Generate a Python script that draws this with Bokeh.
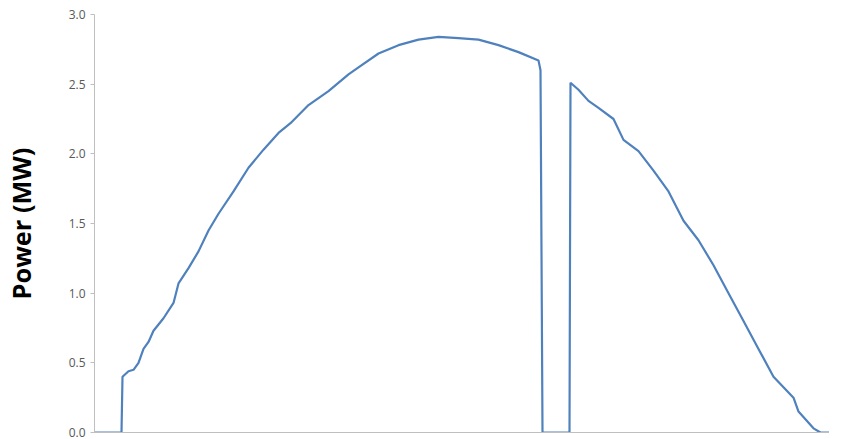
from bokeh.plotting import figure
from bokeh.models import Range1d, FixedTicker, CustomJSTickFormatter
from bokeh.embed import file_html
from bokeh.resources import INLINE

# time index (sample number) and power output in MW
t = [0, 27, 28, 34, 39, 44, 49, 54, 59, 69, 79, 84, 94, 104, 114, 124, 139, 154, 169, 184, 196,
     214, 234, 254, 264, 284, 304, 324, 344, 364, 384, 404, 424, 444, 446, 448, 475, 476, 484,
     494, 504, 519, 529, 544, 559, 574, 589, 604, 619, 634, 649, 664, 679, 699, 704, 719, 726, 749]
power = [0, 0, 0.40, 0.44, 0.45, 0.50, 0.60, 0.65, 0.73, 0.82, 0.93, 1.07, 1.18, 1.30, 1.45, 1.57,
         1.73, 1.90, 2.03, 2.15, 2.22, 2.35, 2.45, 2.57, 2.62, 2.72, 2.78, 2.82, 2.84, 2.83, 2.82,
         2.78, 2.73, 2.67, 2.60, 0, 0, 2.51, 2.46, 2.38, 2.33, 2.25, 2.10, 2.02, 1.88, 1.73, 1.52,
         1.38, 1.20, 1.00, 0.80, 0.60, 0.40, 0.25, 0.15, 0.03, 0, 0]
y_ticks = [0, 0.5, 1.0, 1.5, 2.0, 2.5, 3.0]

p = figure(width=829, height=438, output_backend="svg", toolbar_location=None,
           x_range=Range1d(0, 735), y_range=Range1d(0, 3.0),
           min_border_left=94, min_border_right=0, min_border_top=14, min_border_bottom=0)
p.outline_line_color = None
p.xgrid.grid_line_color = None
p.ygrid.grid_line_color = None

p.line(t, power, line_color="#4f81bd", line_width=2.2)

p.yaxis.ticker = FixedTicker(ticks=y_ticks)
p.yaxis.formatter = CustomJSTickFormatter(code="return tick.toFixed(1);")
p.yaxis.axis_line_color = "#bfbfbf"
p.yaxis.major_tick_line_color = "#bfbfbf"
p.yaxis.major_tick_out = 4
p.yaxis.major_tick_in = 0
p.yaxis.minor_tick_line_color = None
p.yaxis.major_label_text_font_size = "9pt"
p.yaxis.major_label_text_color = "#595959"
p.yaxis.major_label_text_font = "Open Sans"
p.yaxis.axis_label = "Power (MW)"
p.yaxis.axis_label_text_font = "Open Sans"
p.yaxis.axis_label_text_font_style = "bold"
p.yaxis.axis_label_text_font_size = "19pt"
p.yaxis.axis_label_text_color = "#000000"
p.yaxis.axis_label_standoff = 28

p.xaxis.axis_line_color = "#bfbfbf"
p.xaxis.major_tick_line_color = None
p.xaxis.minor_tick_line_color = None
p.xaxis.major_label_text_font_size = "1px"
p.xaxis.major_label_text_color = None
p.xaxis.major_label_standoff = 0

open("out.html", "w").write(file_html(p, INLINE))
